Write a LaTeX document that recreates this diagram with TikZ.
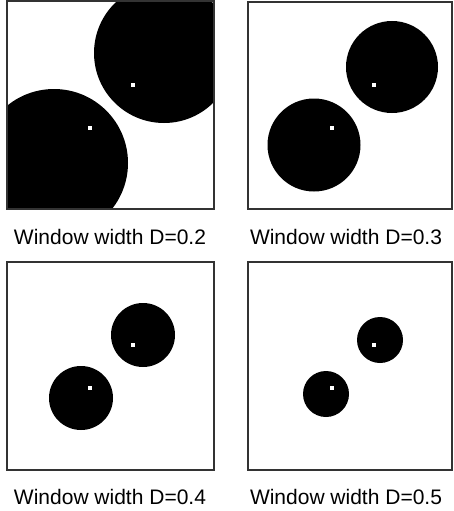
\documentclass[tikz,border=0pt]{standalone}
\usepackage{fontspec}
\setmainfont{Liberation Sans}
\begin{document}
\begin{tikzpicture}[x=1pt,y=-1pt,
  frame/.style={draw=black!80,line width=1.3pt},
  disc/.style={fill=black},
  marker/.style={fill=white},
  caption/.style={anchor=base,inner sep=0pt,font=\fontsize{21}{25}\selectfont}]
\useasboundingbox[fill=white] (0,0) rectangle (453,511);
% Panel 1
\begin{scope}
\clip (7,1) rectangle (214,209);
\fill[disc] (164,53) circle (70);
\fill[disc] (54,163) circle (74);
\end{scope}
\fill[marker] (131,83) rectangle (135,87);
\fill[marker] (88,126) rectangle (92,130);
\draw[frame] (7,1) rectangle (214,209);
\node[caption] (c1) at (110,244) {Window width D=0.2};
% Panel 2
\begin{scope}
\clip (248,2) rectangle (452,209);
\fill[disc] (392,67) circle (46);
\fill[disc] (314,145) circle (46.5);
\end{scope}
\fill[marker] (372,83) rectangle (376,87);
\fill[marker] (330,126) rectangle (334,130);
\draw[frame] (248,2) rectangle (452,209);
\node[caption] (c2) at (346,244) {Window width D=0.3};
% Panel 3
\fill[disc] (143,335) circle (32);
\fill[disc] (81,398) circle (32);
\fill[marker] (131,343) rectangle (135,347);
\fill[marker] (88,386) rectangle (92,390);
\draw[frame] (7,262) rectangle (214,470);
\node[caption] (c3) at (110,504) {Window width D=0.4};
% Panel 4
\fill[disc] (380,340) circle (23);
\fill[disc] (326,394) circle (23);
\fill[marker] (372,343) rectangle (376,347);
\fill[marker] (330,386) rectangle (334,390);
\draw[frame] (248,262) rectangle (452,470);
\node[caption] (c4) at (346,504) {Window width D=0.5};
\end{tikzpicture}
\end{document}
